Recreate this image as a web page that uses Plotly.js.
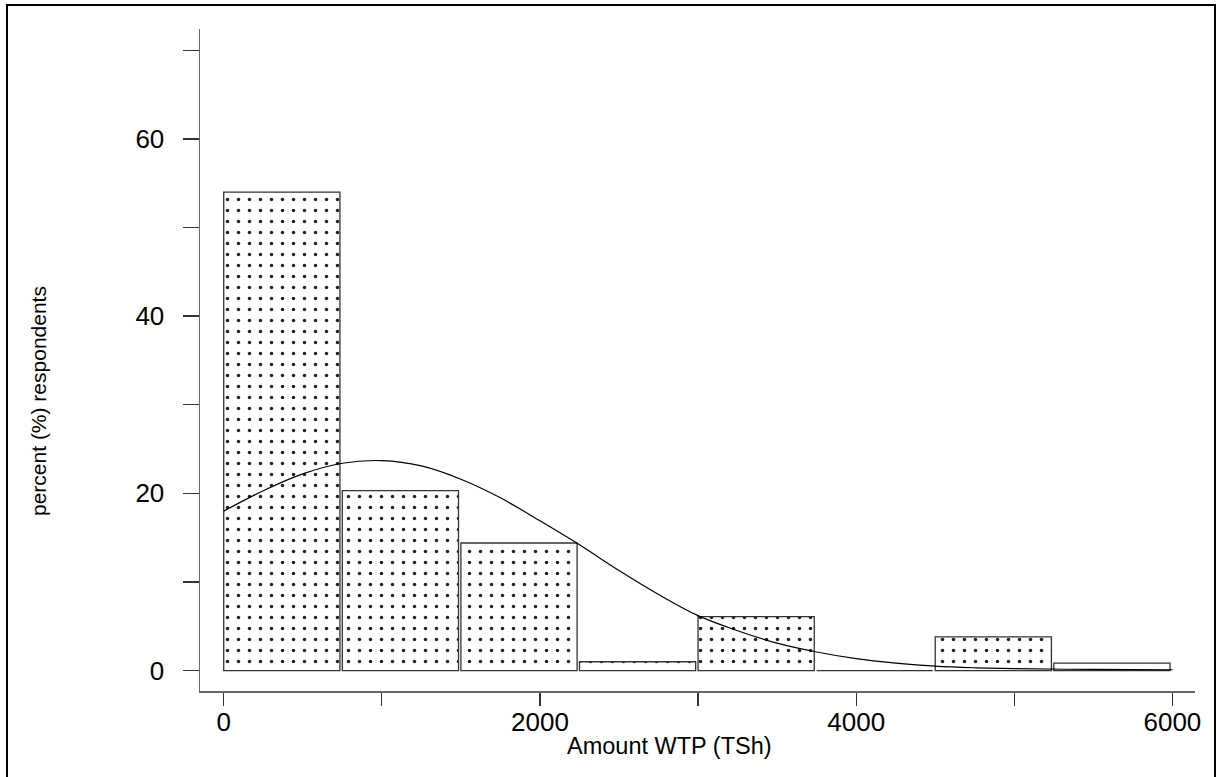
<!DOCTYPE html>
<html>
<head>
<meta charset="utf-8">
<script src="https://cdn.plot.ly/plotly-3.0.1.min.js"></script>
<style>
  html, body { margin: 0; padding: 0; background: #fff; }
  #wrap { position: relative; width: 1220px; height: 777px; overflow: hidden; }
  #chart { position: absolute; left: 0; top: 0; width: 1220px; height: 777px; }
  #frame { position: absolute; left: 6px; top: 4px; width: 1210px; height: 800px;
           border: 2.5px solid #000; pointer-events: none; box-sizing: border-box; }
</style>
</head>
<body>
<div id="wrap">
  <div id="chart"></div>
  <div id="frame"></div>
</div>
<script>
// Histogram bins (TSh), bin width 750
const binStarts = [0, 750, 1500, 2250, 3000, 3750, 4500, 5250];
const percents  = [54.0, 20.3, 14.4, 1.0, 6.1, 0, 3.8, 0.84];

// Fitted curve
const curveX = [0, 250, 500, 750, 1000, 1250, 1500, 1750, 2000, 2250, 2500, 2750, 3000, 3250, 3500, 3750, 4000, 4250, 4500, 4750, 5000, 5500, 6000];
const curveY = [18.0, 20.3, 22.2, 23.4, 23.7, 23.1, 21.6, 19.5, 16.9, 14.2, 11.3, 8.6, 6.2, 4.5, 3.1, 2.1, 1.35, 0.85, 0.5, 0.32, 0.22, 0.13, 0.1];

const xTickVals = [0, 1000, 2000, 3000, 4000, 5000, 6000];
const xTickText = ['0', '', '2000', '', '4000', '', '6000'];
const yTickVals = [0, 10, 20, 30, 40, 50, 60, 70];
const yTickText = ['0', '', '20', '', '40', '', '60', ''];

const xTitle = 'Amount WTP (TSh)';
const yTitle = 'percent (%) respondents';

const bars = {
  type: 'bar',
  x: binStarts,
  y: percents,
  offset: 0,
  width: 735,
  marker: {
    color: '#ffffff',
    line: { color: '#333', width: 1.3 },
    pattern: { shape: '.', size: 11, solidity: 0.08, fgcolor: '#222', bgcolor: '#ffffff', fillmode: 'replace' }
  },
  hoverinfo: 'skip'
};

const curve = {
  type: 'scatter',
  mode: 'lines',
  x: curveX,
  y: curveY,
  line: { color: '#000', width: 1.2, shape: 'spline', smoothing: 1 },
  hoverinfo: 'skip'
};

const font = { family: 'Liberation Sans, Arial, sans-serif', color: '#000' };

const layout = {
  width: 1220,
  height: 777,
  margin: { l: 200, r: 25, t: 29, b: 86 },
  paper_bgcolor: '#fff',
  plot_bgcolor: '#fff',
  showlegend: false,
  font: font,
  xaxis: {
    range: [-150, 6143],
    showline: true, linecolor: '#666', linewidth: 1.5,
    showgrid: false, zeroline: false,
    ticks: 'outside', ticklen: 13, tickwidth: 1.3, tickcolor: '#333',
    tickvals: xTickVals, ticktext: xTickText,
    ticklabelstandoff: -6,
    tickfont: { family: font.family, size: 26, color: '#000' }
  },
  yaxis: {
    range: [-2.3, 72.4],
    showline: true, linecolor: '#666', linewidth: 1.5,
    showgrid: false, zeroline: false,
    ticks: 'outside', ticklen: 16, tickwidth: 1.3, tickcolor: '#333',
    tickvals: yTickVals, ticktext: yTickText,
    ticklabelstandoff: 13,
    tickfont: { family: font.family, size: 26, color: '#000' }
  },
  annotations: [
    { text: xTitle, xref: 'paper', yref: 'paper',
      x: (669 - 200) / 995, y: (691 - 746) / 662, xanchor: 'center', yanchor: 'middle',
      showarrow: false, font: { family: font.family, size: 23.5, color: '#000' } },
    { text: yTitle, xref: 'paper', yref: 'paper', textangle: -90,
      x: (38 - 200) / 995, y: (691 - 401) / 662, xanchor: 'center', yanchor: 'middle',
      showarrow: false, font: { family: font.family, size: 21, color: '#000' } }
  ]
};

Plotly.newPlot('chart', [bars, curve], layout, { staticPlot: true, displayModeBar: false });
</script>
</body>
</html>
